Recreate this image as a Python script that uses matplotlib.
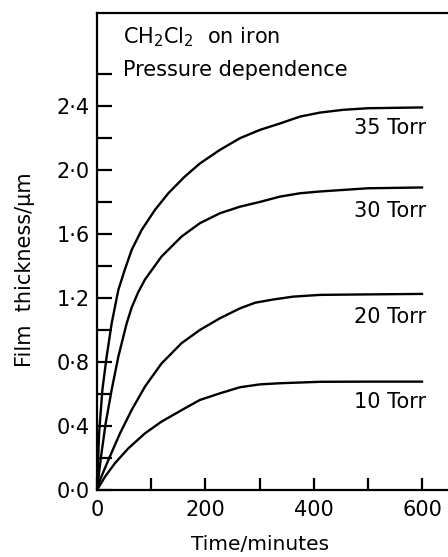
import matplotlib
matplotlib.use("Agg")
import matplotlib.pyplot as plt
from matplotlib.ticker import FixedLocator, FuncFormatter

# film growth of CH2Cl2 on iron, read as (time / min, thickness / um)
t_35 = [0, 4, 9.9, 17.8, 27, 39.4, 51.7, 64, 82.5, 107, 131.7, 162, 190, 227,
        264, 301, 338, 375, 412, 454, 500, 600]
d_35 = [0, 0.36, 0.625, 0.833, 1.04, 1.25, 1.38, 1.5, 1.625, 1.75, 1.854, 1.958,
        2.04, 2.125, 2.198, 2.25, 2.29, 2.333, 2.358, 2.375, 2.385, 2.39]

t_30 = [0, 7.4, 16, 27, 39.4, 54.7, 64, 76, 88.6, 119, 156, 190, 227, 264, 301,
        338, 375, 412, 500, 600]
d_30 = [0, 0.208, 0.417, 0.625, 0.833, 1.04, 1.14, 1.235, 1.315, 1.458, 1.583,
        1.667, 1.729, 1.77, 1.8, 1.833, 1.854, 1.865, 1.885, 1.89]

t_20 = [0, 5.5, 21, 42.5, 64, 88.6, 119, 156, 190, 227, 264, 292, 325, 362,
        412, 500, 600]
d_20 = [0, 0.0625, 0.1875, 0.354, 0.5, 0.646, 0.79, 0.917, 1.0, 1.073, 1.135,
        1.17, 1.19, 1.208, 1.219, 1.222, 1.225]

t_10 = [0, 14.8, 33, 57.8, 88.6, 119, 162, 190, 227, 264, 301, 338, 412, 500, 600]
d_10 = [0, 0.083, 0.167, 0.26, 0.354, 0.427, 0.51, 0.5625, 0.604, 0.642, 0.66,
        0.667, 0.676, 0.677, 0.677]

labels = ["35 Torr", "30 Torr", "20 Torr", "10 Torr"]
label_y = [2.26, 1.74, 1.08, 0.55]

plt.rcParams["font.family"] = "DejaVu Sans"
W, H = 448, 557
fig = plt.figure(figsize=(W / 100, H / 100), dpi=100)
ax = fig.add_axes([97 / W, 1 - 490 / H, (W - 97) / W, (490 - 13) / H])

for t, d in [(t_35, d_35), (t_30, d_30), (t_20, d_20), (t_10, d_10)]:
    ax.plot(t, d, color="black", lw=1.7, solid_joinstyle="round")

for lab, y in zip(labels, label_y):
    ax.text(607, y, lab, ha="right", va="center", fontsize=15)

ax.set_xlim(0, 648)
ax.set_ylim(0, 2.98)

ax.xaxis.set_major_locator(FixedLocator([0, 200, 400, 600]))
ax.xaxis.set_minor_locator(FixedLocator([100, 300, 500]))
ax.yaxis.set_major_locator(FixedLocator([0, 0.4, 0.8, 1.2, 1.6, 2.0, 2.4]))
ax.yaxis.set_minor_locator(FixedLocator([0.2, 0.6, 1.0, 1.4, 1.8, 2.2, 2.6]))
ax.yaxis.set_major_formatter(FuncFormatter(lambda v, p: f"{v:.1f}".replace(".", "\u00b7")))

ax.tick_params(which="both", direction="in", width=1.6, labelsize=15)
ax.tick_params(axis="y", which="both", length=10.5, pad=5)
ax.tick_params(axis="x", which="both", length=8.5, pad=7)

ax.spines["right"].set_visible(False)
for s in ["left", "top", "bottom"]:
    ax.spines[s].set_linewidth(1.6)

fig.text(123 / W, 1 - 43 / H, r"CH$_2$Cl$_2$  on iron", fontsize=15, va="baseline")
fig.text(123 / W, 1 - 76 / H, "Pressure dependence", fontsize=15, va="baseline")
fig.text(260 / W, 1 - 544 / H, "Time/minutes", fontsize=14.5, ha="center", va="center")
fig.text(25 / W, 1 - 270 / H, "Film  thickness/\u03bcm", fontsize=15,
         rotation=90, ha="center", va="center")

fig.savefig("out.png", dpi=100)
